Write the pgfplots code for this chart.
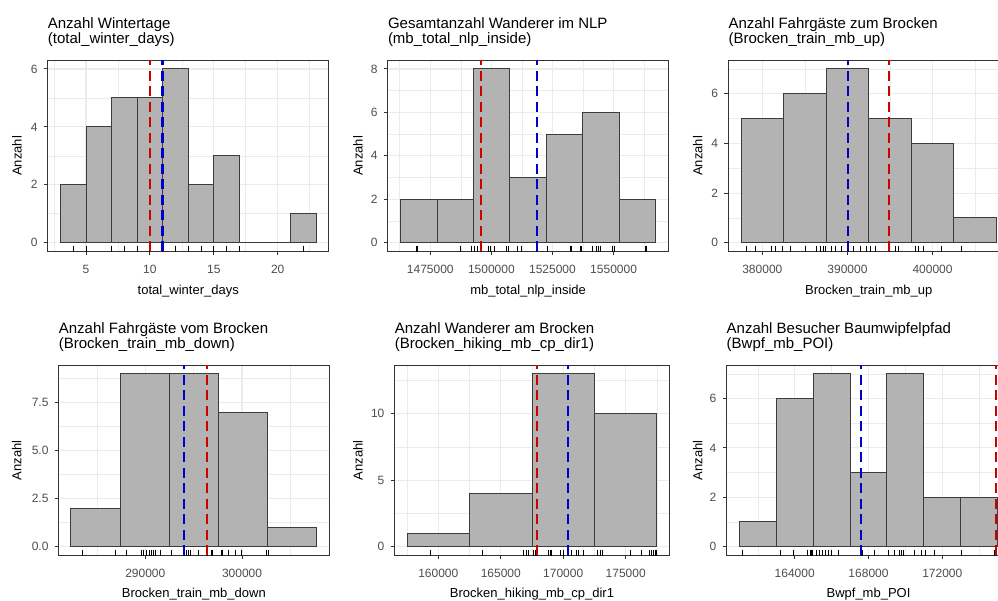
\documentclass[border=0pt]{standalone}
\usepackage{fontspec}
\setmainfont{Liberation Sans}
\usepackage{pgfplots}
\pgfplotsset{compat=1.18}
\usetikzlibrary{calc}

\definecolor{barfill}{HTML}{B3B3B3}
\definecolor{bardraw}{HTML}{3C3C3C}
\definecolor{framec}{HTML}{333333}
\definecolor{gridc}{HTML}{EBEBEB}
\definecolor{tickc}{HTML}{4D4D4D}
\definecolor{vred}{HTML}{CD0000}
\definecolor{vblue}{HTML}{0000CD}

\newcommand{\labfont}{\fontsize{13bp}{15bp}\selectfont}

\pgfplotsset{
  set layers,
  panel/.style={
    scale only axis, anchor=south west,
    scaled ticks=false,
    axis line style={draw=framec, line width=1bp},
    every tick/.style={draw=framec, line width=1bp},
    tick align=outside, tick pos=left,
    major tick length=4bp, minor tick length=0pt,
    grid=both,
    major grid style={draw=gridc, line width=1.1bp},
    minor grid style={draw=gridc, line width=0.55bp},
    clip marker paths=true,
    tick label style={font=\fontsize{12bp}{14bp}\selectfont, text=tickc},
    xticklabel style={anchor=north, inner sep=0pt, yshift=-9.5bp},
    yticklabel style={anchor=east, inner sep=0pt, xshift=-6bp},
    every axis x label/.style={at={($(rel axis cs:0.5,0)+(0,-40bp)$)}, anchor=center,
      font=\labfont, text=black},
    ylabel={Anzahl},
    title style={at={(rel axis cs:0,1)}, anchor=south west, align=left,
      inner sep=0pt, text depth=0pt, yshift=11bp,
      font=\fontsize{15bp}{15bp}\selectfont},
  },
  ylab/.style={every axis y label/.style={at={($(rel axis cs:0,0.5)+(-#1,0)$)},
      anchor=center, rotate=90, font=\labfont, text=black}},
  lowrow/.style={every axis x label/.append style={yshift=1.5bp}},
  hbar/.style={ybar interval, fill=barfill, draw=bardraw, line width=1bp},
  rug/.style={only marks, mark=|, mark size=5.7bp, mark options={draw=black, line width=0.9bp}},
  vline/.style={line width=2.4bp, dash pattern=on 10bp off 5.5bp},
}

\begin{document}
\begin{tikzpicture}

% ---- Anzahl Wintertage ----
\begin{axis}[panel, ylab=30.7bp,
  at={(47.7bp,-251.4bp)}, width=281.1bp, height=191.1bp,
  xmin=2, xmax=24, ymin=-0.3, ymax=6.3,
  xtick={5,10,15,20}, xticklabels={5,10,15,20},
  minor xtick={2.5,7.5,12.5,17.5,22.5},
  ytick={0,2,4,6}, yticklabels={0,2,4,6}, minor ytick={1,3,5},
  title={Anzahl Wintertage\\(total\_winter\_days)},
  xlabel={total\_winter\_days}]
\addplot[hbar] coordinates {(3,2) (5,4) (7,5) (9,5) (11,6) (13,2) (15,3) (17,0) (19,0) (21,1) (23,1)};
\addplot[rug] coordinates {(4,-0.3) (5,-0.3) (7,-0.3) (7,-0.3) (7,-0.3) (7,-0.3) (8,-0.3) (8,-0.3)
  (9,-0.3) (9,-0.3) (9,-0.3) (10,-0.3) (10,-0.3) (11,-0.3) (11,-0.3) (11,-0.3) (12,-0.3) (12,-0.3)
  (12,-0.3) (13,-0.3) (13,-0.3) (13,-0.3) (14,-0.3) (15,-0.3) (16,-0.3) (16,-0.3) (17,-0.3) (22,-0.3)};
\addplot[vline, draw=vred] coordinates {(10,-0.3) (10,6.3)};
\addplot[vline, draw=vblue] coordinates {(11,-0.3) (11,6.3)};
\end{axis}

% ---- Gesamtanzahl Wanderer im NLP ----
\begin{axis}[panel, ylab=29.8bp,
  at={(387.8bp,-251.4bp)}, width=280.6bp, height=191.1bp,
  xmin=1457609, xmax=1572431, ymin=-0.4, ymax=8.4,
  xtick={1475000,1500000,1525000,1550000}, xticklabels={1475000,1500000,1525000,1550000},
  minor xtick={1462500,1487500,1512500,1537500,1562500},
  ytick={0,2,4,6,8}, yticklabels={0,2,4,6,8}, minor ytick={1,3,5,7},
  title={Gesamtanzahl Wanderer im NLP\\(mb\_total\_nlp\_inside)},
  xlabel={mb\_total\_nlp\_inside}]
\addplot[hbar] coordinates {(1462828,2) (1477740,2) (1492652,8) (1507564,3) (1522476,5) (1537388,6) (1552300,2) (1567212,2)};
\addplot[rug] coordinates {(1469263,-0.4) (1469600,-0.4) (1487417,-0.4) (1491802,-0.4) (1492867,-0.4)
  (1494261,-0.4) (1495900,-0.4) (1498605,-0.4) (1499711,-0.4) (1501063,-0.4) (1506145,-0.4)
  (1506801,-0.4) (1510653,-0.4) (1512292,-0.4) (1518439,-0.4) (1522947,-0.4) (1532495,-0.4)
  (1532900,-0.4) (1536593,-0.4) (1536880,-0.4) (1541224,-0.4) (1543150,-0.4) (1543970,-0.4)
  (1544790,-0.4) (1549421,-0.4) (1550527,-0.4) (1563231,-0.4) (1563500,-0.4)};
\addplot[vline, draw=vred] coordinates {(1495700,-0.4) (1495700,8.4)};
\addplot[vline, draw=vblue] coordinates {(1518600,-0.4) (1518600,8.4)};
\end{axis}

% ---- Anzahl Fahrgaeste zum Brocken ----
\begin{axis}[panel, ylab=30.6bp,
  at={(728.3bp,-251.4bp)}, width=280.8bp, height=191.1bp,
  xmin=376000, xmax=409000, ymin=-0.35, ymax=7.35,
  xtick={380000,390000,400000}, xticklabels={380000,390000,400000},
  minor xtick={385000,395000,405000},
  ytick={0,2,4,6}, yticklabels={0,2,4,6}, minor ytick={1,3,5,7},
  title={Anzahl Fahrgäste zum Brocken\\(Brocken\_train\_mb\_up)},
  xlabel={Brocken\_train\_mb\_up}]
\addplot[hbar] coordinates {(377500,5) (382500,6) (387500,7) (392500,5) (397500,4) (402500,1) (407500,1)};
\addplot[rug] coordinates {(378167,-0.35) (379142,-0.35) (381105,-0.35) (381492,-0.35) (382350,-0.35)
  (383255,-0.35) (385017,-0.35) (386392,-0.35) (386780,-0.35) (387191,-0.35) (387426,-0.35)
  (388072,-0.35) (388542,-0.35) (389330,-0.35) (390105,-0.35) (390692,-0.35) (391480,-0.35)
  (392185,-0.35) (392655,-0.35) (393242,-0.35) (394970,-0.35) (395592,-0.35) (395980,-0.35)
  (397942,-0.35) (398330,-0.35) (398965,-0.35) (401080,-0.35) (403430,-0.35)};
\addplot[vline, draw=vblue] coordinates {(390100,-0.35) (390100,7.35)};
\addplot[vline, draw=vred] coordinates {(394900,-0.35) (394900,7.35)};
\end{axis}

% ---- Anzahl Fahrgaeste vom Brocken ----
\begin{axis}[panel, lowrow, ylab=42bp,
  at={(58.7bp,-555.3bp)}, width=270.3bp, height=190.1bp,
  xmin=281047, xmax=308992, ymin=-0.45, ymax=9.45,
  xtick={290000,300000}, xticklabels={290000,300000},
  minor xtick={285000,295000,305000},
  ytick={0,2.5,5,7.5}, yticklabels={0.0,2.5,5.0,7.5}, minor ytick={1.25,3.75,6.25,8.75},
  title={Anzahl Fahrgäste vom Brocken\\(Brocken\_train\_mb\_down)},
  xlabel={Brocken\_train\_mb\_down}]
\addplot[hbar] coordinates {(282317,2) (287398,9) (292479,9) (297560,7) (302641,1) (307722,1)};
\addplot[rug] coordinates {(283506,-0.45) (286867,-0.45) (288077,-0.45) (289586,-0.45) (289835,-0.45)
  (290093,-0.45) (290403,-0.45) (290662,-0.45) (290796,-0.45) (291003,-0.45) (291520,-0.45)
  (292709,-0.45) (294033,-0.45) (294208,-0.45) (294446,-0.45) (294622,-0.45) (295522,-0.45)
  (296431,-0.45) (296866,-0.45) (296969,-0.45) (297827,-0.45) (298003,-0.45) (298582,-0.45)
  (299275,-0.45) (299896,-0.45) (299968,-0.45) (302480,-0.45) (302718,-0.45)};
\addplot[vline, draw=vblue] coordinates {(294000,-0.45) (294000,9.45)};
\addplot[vline, draw=vred] coordinates {(296400,-0.45) (296400,9.45)};
\end{axis}

% ---- Anzahl Wanderer am Brocken ----
\begin{axis}[panel, lowrow, ylab=36.6bp,
  at={(394.6bp,-555.3bp)}, width=274.8bp, height=190.1bp,
  xmin=156500, xmax=178500, ymin=-0.65, ymax=13.65,
  xtick={160000,165000,170000,175000}, xticklabels={160000,165000,170000,175000},
  minor xtick={157500,162500,167500,172500,177500},
  ytick={0,5,10}, yticklabels={0,5,10}, minor ytick={2.5,7.5,12.5},
  title={Anzahl Wanderer am Brocken\\(Brocken\_hiking\_mb\_cp\_dir1)},
  xlabel={Brocken\_hiking\_mb\_cp\_dir1}]
\addplot[hbar] coordinates {(157500,1) (162500,4) (167500,13) (172500,10) (177500,10)};
\addplot[rug] coordinates {(159336,-0.65) (163522,-0.65) (166804,-0.65) (167020,-0.65) (167205,-0.65)
  (167581,-0.65) (167741,-0.65) (167877,-0.65) (168806,-0.65) (168942,-0.65) (169078,-0.65)
  (169798,-0.65) (170006,-0.65) (170438,-0.65) (170679,-0.65) (171079,-0.65) (171207,-0.65)
  (171607,-0.65) (172728,-0.65) (172944,-0.65) (173104,-0.65) (175402,-0.65) (176282,-0.65)
  (176891,-0.65) (177083,-0.65) (177211,-0.65) (177347,-0.65) (177427,-0.65)};
\addplot[vline, draw=vred] coordinates {(167900,-0.65) (167900,13.65)};
\addplot[vline, draw=vblue] coordinates {(170400,-0.65) (170400,13.65)};
\end{axis}

% ---- Anzahl Besucher Baumwipfelpfad ----
\begin{axis}[panel, lowrow, ylab=28.8bp,
  at={(726.5bp,-555.3bp)}, width=284bp, height=190.1bp,
  xmin=160300, xmax=175700, ymin=-0.35, ymax=7.35,
  xtick={164000,168000,172000}, xticklabels={164000,168000,172000},
  minor xtick={162000,166000,170000,174000},
  ytick={0,2,4,6}, yticklabels={0,2,4,6}, minor ytick={1,3,5,7},
  title={Anzahl Besucher Baumwipfelpfad\\(Bwpf\_mb\_POI)},
  xlabel={Bwpf\_mb\_POI}]
\addplot[hbar] coordinates {(161000,1) (163000,6) (165000,7) (167000,3) (169000,7) (171000,2) (173000,2) (175000,2)};
\addplot[rug] coordinates {(161158,-0.35) (163203,-0.35) (163924,-0.35) (164705,-0.35) (164830,-0.35)
  (164884,-0.35) (164976,-0.35) (165155,-0.35) (165318,-0.35) (165497,-0.35) (165643,-0.35)
  (165806,-0.35) (165969,-0.35) (166365,-0.35) (167596,-0.35) (167667,-0.35) (168318,-0.35)
  (169061,-0.35) (169402,-0.35) (169657,-0.35) (169804,-0.35) (169890,-0.35) (170487,-0.35)
  (170888,-0.35) (171067,-0.35) (171572,-0.35) (173047,-0.35) (174826,-0.35)};
\addplot[vline, draw=vblue] coordinates {(167600,-0.35) (167600,7.35)};
\addplot[vline, draw=vred] coordinates {(174900,-0.35) (174900,7.35)};
\end{axis}

% fixed page frame: the two right-hand panels run past the right edge
\pgfresetboundingbox
\useasboundingbox (0,0) rectangle (998bp,-601bp);
\end{tikzpicture}
\end{document}
